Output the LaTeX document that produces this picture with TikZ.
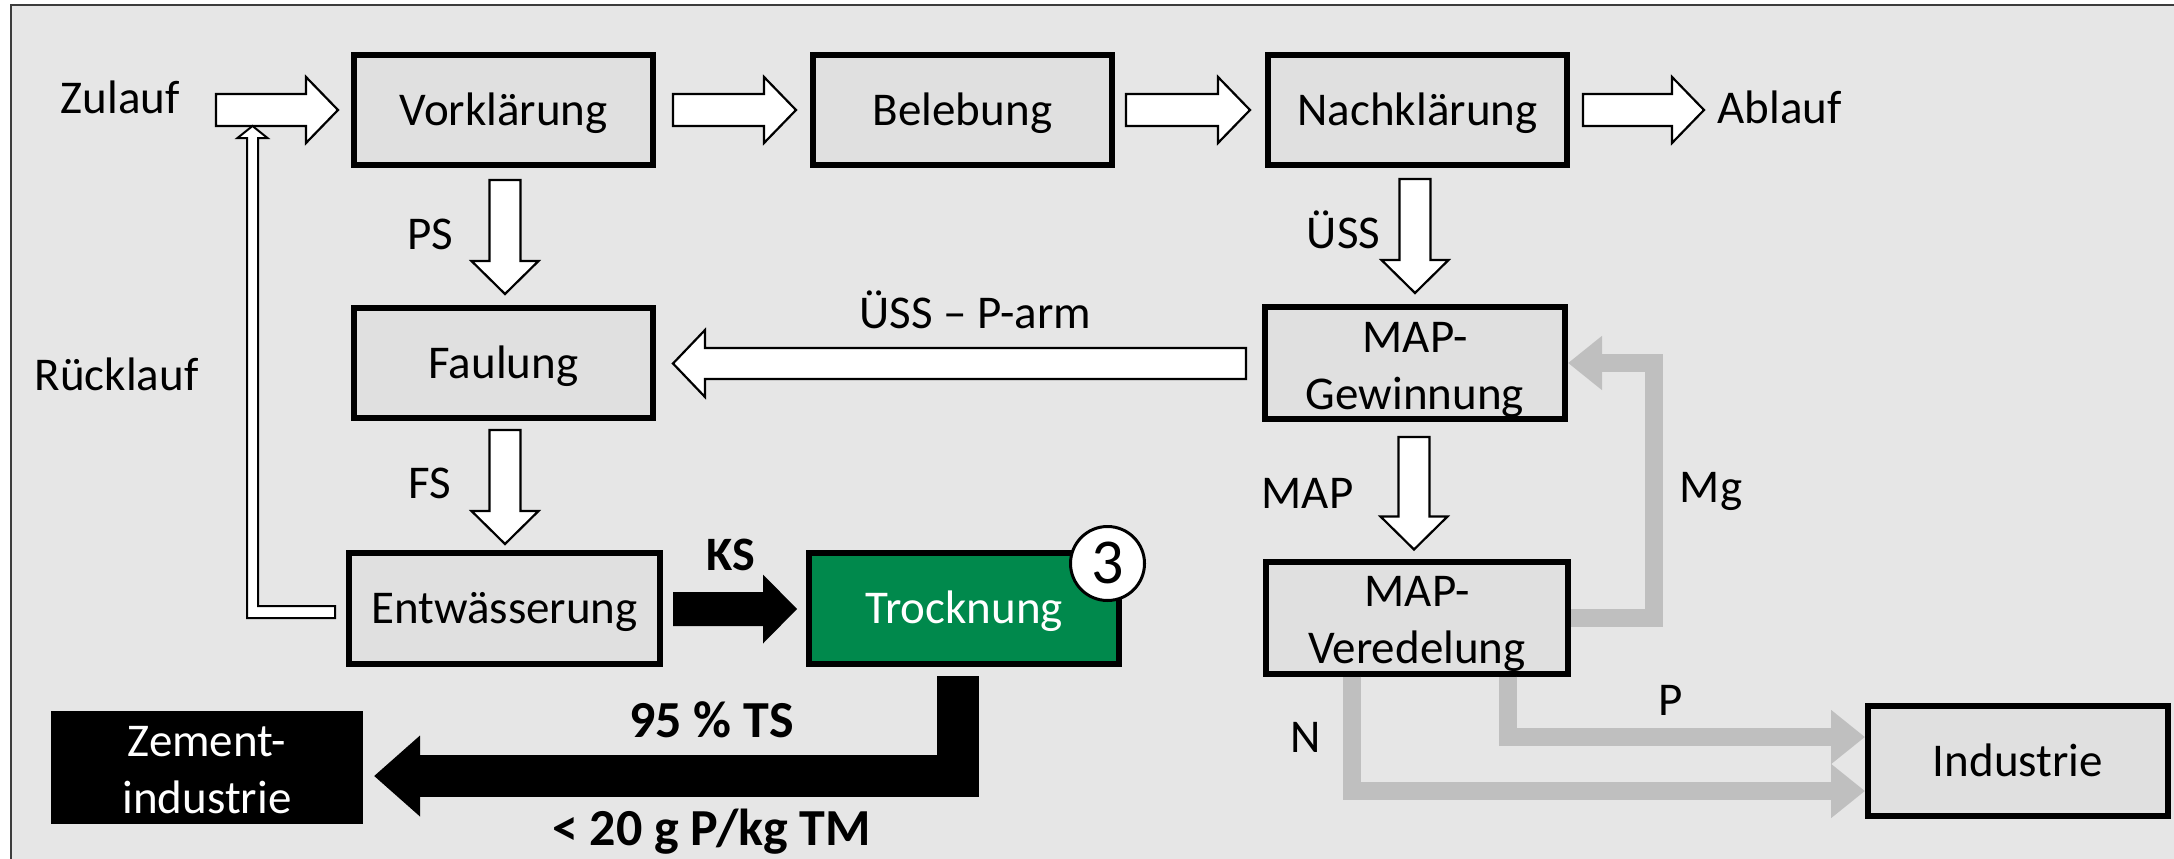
\documentclass[tikz,border=0pt]{standalone}
\usepackage{fontspec}
\setmainfont{Carlito}
\usetikzlibrary{calc,arrows.meta}

\definecolor{bggray}{RGB}{230,230,230}
\definecolor{boxgray}{RGB}{224,224,224}
\definecolor{flowgray}{RGB}{191,191,191}
\definecolor{drygreen}{RGB}{0,137,76}
\definecolor{framegray}{RGB}{60,60,60}

% struts that fix the vertical placement of two-line box texts
\newcommand\capstrut{\rule{0pt}{45pt}}
\newcommand\descstrut{\rule[-10pt]{0pt}{10pt}}

% block arrows: #1 style, #2 tail, #3 tip, #4 shaft half width, #5 head half width, #6 head length
\newcommand\arrowright[6]{%
  \path[#1] ($(#2 |- #3)+(0,-#4)$) -- ($(#3)+(-#6,-#4)$) -- ($(#3)+(-#6,-#5)$) -- (#3)
    -- ($(#3)+(-#6,#5)$) -- ($(#3)+(-#6,#4)$) -- ($(#2 |- #3)+(0,#4)$) -- cycle;}
\newcommand\arrowleft[6]{%
  \path[#1] ($(#2 |- #3)+(0,-#4)$) -- ($(#3)+(#6,-#4)$) -- ($(#3)+(#6,-#5)$) -- (#3)
    -- ($(#3)+(#6,#5)$) -- ($(#3)+(#6,#4)$) -- ($(#2 |- #3)+(0,#4)$) -- cycle;}
\newcommand\arrowdown[6]{%
  \path[#1] ($(#3 |- #2)+(-#4,0)$) -- ($(#3)+(-#4,-#6)$) -- ($(#3)+(-#5,-#6)$) -- (#3)
    -- ($(#3)+(#5,-#6)$) -- ($(#3)+(#4,-#6)$) -- ($(#3 |- #2)+(#4,0)$) -- cycle;}

\begin{document}
\begin{tikzpicture}[x=1pt,y=-1pt,
  basebox/.style={draw=black, line width=6pt, fill=boxgray, inner sep=0pt,
    minimum width=299pt, minimum height=110pt, align=center,
    font=\fontsize{47}{57}\selectfont},
  box/.style={basebox, text height=30pt, text depth=0pt},
  lbl/.style={anchor=base, inner sep=0pt, font=\fontsize{47}{57}\selectfont},
  boldlbl/.style={anchor=base, inner sep=0pt, font=\bfseries\fontsize{52}{62}\selectfont},
  hollow/.style={draw=black, line width=2.2pt, fill=white, line join=miter},
  solidblock/.style={fill=black},
  flow/.style={draw=flowgray, line width=18pt, line join=miter,
    -{Triangle[width=52pt,length=34pt]}},
  outflow/.style={draw=black, line width=42pt, line join=miter,
    -{Triangle[width=78pt,length=46pt]}}
]
\useasboundingbox (0,0) rectangle (2174,859);
\fill[white] (0,0) rectangle (2174,859);
\draw[line width=2pt, draw=framegray, fill=bggray] (11,5) rectangle (2200,880);

% process units
\node[box] (vk) at (503.5,110) {Vorklärung};
\node[box] (bl) at (962.5,110) {Belebung};
\node[box] (nk) at (1417.5,110) {Nachklärung};
\node[box] (fa) at (503.5,363) {Faulung};
\node[basebox, minimum width=300pt] (mg) at (1415,363) {\capstrut MAP-\\Gewinnung\descstrut};
\node[box, minimum width=311pt, minimum height=111pt] (ew) at (504.5,608.5) {Entwässerung};
\node[box, minimum width=310pt, minimum height=111pt, fill=drygreen, text=white] (tr) at (964,608.5) {Trocknung};
\node[basebox, minimum width=302pt, minimum height=111pt] (mv) at (1417,617.5) {\capstrut MAP-\\Veredelung\descstrut};
\node[box, minimum width=300pt, minimum height=110pt] (in) at (2018,761) {Industrie};
\node[basebox, draw=none, fill=black, text=white, outer sep=0pt,
  minimum width=312pt, minimum height=113pt] (zi) at (207,767.5) {\capstrut Zement-\\industrie\descstrut};
\node[circle, draw=black, line width=3pt, fill=white, minimum size=74pt, inner sep=0pt,
  font=\fontsize{64}{64}\selectfont, text height=40pt, text depth=0pt] (num) at (1107.5,563.5) {3};

% arrow end points
\coordinate (zl-tail) at (216,110);
\coordinate (zl-tip) at ($(vk.west)+(-13,0)$);
\coordinate (vb-tail) at ($(vk.east)+(17,0)$);
\coordinate (vb-tip) at ($(bl.west)+(-14,0)$);
\coordinate (bn-tail) at ($(bl.east)+(11,0)$);
\coordinate (bn-tip) at ($(nk.west)+(-15,0)$);
\coordinate (na-tail) at ($(nk.east)+(13,0)$);
\coordinate (na-tip) at ($(nk.east)+(134,0)$);
\coordinate (ps-tail) at ($(vk.south)+(1.5,12)$);
\coordinate (ps-tip) at ($(fa.north)+(1.5,-11)$);
\coordinate (us-tail) at ($(nk.south)+(-2.5,11)$);
\coordinate (us-tip) at ($(mg.north)+(0,-11)$);
\coordinate (fs-tail) at ($(fa.south)+(1.5,9)$);
\coordinate (fs-tip) at ($(ew.north)+(0.5,-6)$);
\coordinate (map-tail) at ($(mg.south)+(-1,15)$);
\coordinate (map-tip) at ($(mv.north)+(-3,-9)$);
\coordinate (pa-tail) at ($(mg.west)+(-16,0.5)$);
\coordinate (pa-tip) at ($(fa.east)+(17,0.5)$);
\coordinate (ks-tail) at ($(ew.east)+(10,0.5)$);
\coordinate (ks-tip) at ($(tr.west)+(-9,0.5)$);
\coordinate (rk-tail) at ($(ew.west)+(-11,3.5)$);
\coordinate (rk-tip) at ($(zl-tail)+(36.5,16)$);
\coordinate (mg-corner) at ($(mg.east)+(86,0)$);
\coordinate (p-start) at ($(mv.south)+(91,0)$);
\coordinate (p-end) at ($(in.west)+(0,-24)$);
\coordinate (n-start) at ($(mv.south)+(-65,0)$);
\coordinate (n-end) at ($(in.west)+(0,30)$);
\coordinate (dry-start) at ($(tr.south)+(-6,9)$);
\coordinate (dry-end) at ($(zi.east)+(11,8.5)$);

% main water line
\arrowright{hollow}{zl-tail}{zl-tip}{16}{33}{32}
\arrowright{hollow}{vb-tail}{vb-tip}{16}{33}{32}
\arrowright{hollow}{bn-tail}{bn-tip}{16}{33}{32}
\arrowright{hollow}{na-tail}{na-tip}{16}{33}{32}

% sludge line
\arrowdown{hollow}{ps-tail}{ps-tip}{15.5}{33.5}{33}
\arrowdown{hollow}{us-tail}{us-tip}{15.5}{33.5}{33}
\arrowdown{hollow}{fs-tail}{fs-tip}{15.5}{33.5}{33}
\arrowdown{hollow}{map-tail}{map-tip}{15.5}{33.5}{33}
\arrowleft{hollow}{pa-tail}{pa-tip}{15.5}{33.5}{32}
\arrowright{solidblock}{ks-tail}{ks-tip}{17}{34.5}{34}

% return flow from dewatering
\path[hollow, line width=2pt] ($(rk-tail)+(0,-6)$) -- ($(rk-tip |- rk-tail)+(5.5,-6)$)
  -- ($(rk-tip)+(5.5,12)$) -- ($(rk-tip)+(15,12)$) -- (rk-tip) -- ($(rk-tip)+(-15,12)$)
  -- ($(rk-tip)+(-5.5,12)$) -- ($(rk-tip |- rk-tail)+(-5.5,6)$) -- ($(rk-tail)+(0,6)$) -- cycle;

% recovered products
\draw[flow] (mv.east) -| (mg-corner) -- (mg.east);
\draw[flow] (p-start) |- (p-end);
\draw[flow] (n-start) |- (n-end);

% dried sludge to the cement industry
\draw[outflow] (dry-start) |- (dry-end);

% labels
\node[lbl] (t-zulauf) at (120.5,113) {Zulauf};
\node[lbl] (t-ablauf) at (1779.5,123) {Ablauf};
\node[lbl] (t-ps) at (430.5,249) {PS};
\node[lbl] (t-uss) at (1343.5,248) {ÜSS};
\node[lbl] (t-parm) at (975.5,328) {ÜSS – P-arm};
\node[lbl] (t-ruecklauf) at (116.5,390) {Rücklauf};
\node[lbl] (t-fs) at (430,498) {FS};
\node[lbl] (t-map) at (1307.5,508) {MAP};
\node[lbl] (t-mg) at (1711,502) {Mg};
\node[lbl] (t-n) at (1305.5,752) {N};
\node[lbl] (t-p) at (1670.5,715) {P};
\node[boldlbl, font=\bfseries\fontsize{48}{58}\selectfont] (t-ks) at (730.5,570) {KS};
\node[boldlbl] (t-ts) at (711.5,737) {95 \% TS};
\node[boldlbl] (t-pkg) at (711.5,845) {< 20 g P/kg TM};
\end{tikzpicture}
\end{document}
